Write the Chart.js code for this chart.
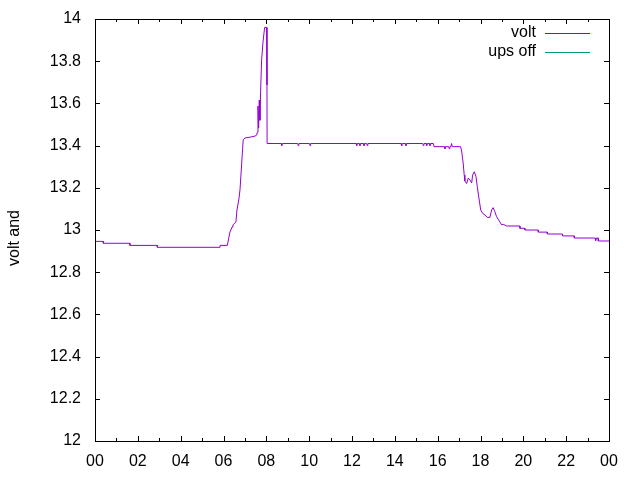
<!DOCTYPE html>
<html>
<head>
<meta charset="utf-8">
<script src="https://cdn.jsdelivr.net/npm/chart.js@4"></script>
<style>
  html, body { margin: 0; padding: 0; background: #ffffff; }
  #wrap { width: 640px; height: 480px; }
</style>
</head>
<body>
<div id="wrap"><canvas id="chart" width="640" height="480"></canvas></div>
<script>
// hours of the day (0..24) and battery volts
const voltHours = [
  0, 0.39, 0.39, 1.63, 1.63, 2.91, 2.91, 5.84, 5.84,
  6.18, 6.23, 6.30, 6.40, 6.44, 6.58, 6.63, 6.72, 6.77, 6.85, 6.89, 6.92,
  7.00, 7.24, 7.47, 7.55, 7.58, 7.61, 7.64, 7.67, 7.70, 7.73, 7.78, 7.84, 7.92,
  8.015, 8.03, 8.035,
  8.69, 8.72, 8.75, 9.46, 9.49, 9.52, 10.01, 10.04, 10.07,
  12.19, 12.22, 12.25, 12.34, 12.37, 12.40, 12.53, 12.56, 12.59, 12.68, 12.71, 12.74,
  14.29, 14.32, 14.35, 14.49, 14.52, 14.55,
  15.30, 15.33, 15.36, 15.46, 15.49, 15.52, 15.61, 15.64, 15.67,
  15.80, 15.83,
  16.31, 16.34, 16.37, 16.51, 16.54, 16.57, 16.62, 16.65, 16.68,
  17.07, 17.12, 17.19, 17.24, 17.27, 17.35, 17.43, 17.51, 17.59, 17.63, 17.71,
  17.79, 17.85, 17.94, 18.01, 18.10, 18.21, 18.31, 18.44, 18.52, 18.59, 18.67,
  18.75, 18.87, 18.99, 19.06, 19.22,
  19.84, 19.84, 20.07, 20.07, 20.70, 20.70, 21.12, 21.12, 21.83, 21.83,
  22.38, 22.38, 23.35, 23.38, 23.41, 23.50, 23.50, 24
];
const voltValues = [
  12.946, 12.946, 12.937, 12.937, 12.927, 12.927, 12.918, 12.918, 12.927,
  12.927, 12.953, 12.99, 13.014, 13.024, 13.038, 13.095, 13.147, 13.19, 13.318, 13.38, 13.427,
  13.436, 13.44, 13.445, 13.45, 13.464, 13.588, 13.483, 13.616, 13.52, 13.65, 13.806, 13.886, 13.96,
  13.96, 13.687, 13.41,
  13.41, 13.40, 13.41, 13.41, 13.40, 13.41, 13.41, 13.40, 13.41,
  13.41, 13.40, 13.41, 13.41, 13.40, 13.41, 13.41, 13.40, 13.41, 13.41, 13.40, 13.41,
  13.41, 13.40, 13.41, 13.41, 13.40, 13.41,
  13.41, 13.40, 13.41, 13.41, 13.40, 13.41, 13.41, 13.40, 13.41,
  13.41, 13.395,
  13.395, 13.385, 13.395, 13.395, 13.385, 13.395, 13.395, 13.41, 13.395,
  13.395, 13.374, 13.318, 13.26, 13.232, 13.22, 13.246, 13.237, 13.223, 13.26, 13.276,
  13.253, 13.205, 13.142, 13.095, 13.079, 13.071, 13.06, 13.06, 13.095, 13.106, 13.087,
  13.063, 13.044, 13.024, 13.027, 13.019,
  13.019, 13.008, 13.008, 13.0, 13.0, 12.99, 12.99, 12.981, 12.981, 12.972,
  12.972, 12.962, 12.962, 12.95, 12.962, 12.962, 12.948, 12.948
];
// "ups off" has no visible points in the plotted range
const upsHours = [];
const upsValues = [];

const seriesNames = ['volt', 'ups off'];
const seriesColors = ['#9400d3', '#009e73'];
const yTitle = 'volt and';

const FONT = '"Liberation Sans", Arial, sans-serif';
const FSIZE = 16;

function toPoints(xs, ys) {
  return xs.map((x, i) => ({ x: x, y: ys[i] }));
}

// gnuplot-ish frame, inward ticks, key and y label
const gnuplotLook = {
  id: 'gnuplotLook',
  afterDraw(chart) {
    const ctx = chart.ctx;
    const a = chart.chartArea;
    const xs = chart.scales.x;
    const ys = chart.scales.y;
    ctx.save();
    ctx.strokeStyle = '#000000';
    ctx.lineWidth = 1;
    ctx.beginPath();
    // y ticks on both sides
    ys.ticks.forEach(t => {
      const py = Math.round(ys.getPixelForValue(t.value)) + 0.5;
      ctx.moveTo(a.left, py); ctx.lineTo(a.left + 5, py);
      ctx.moveTo(a.right, py); ctx.lineTo(a.right - 5, py);
    });
    // x ticks: majors every 2h, minors every hour
    for (let h = 0; h <= 24; h++) {
      const px = Math.round(xs.getPixelForValue(h)) + 0.5;
      const len = h % 2 === 0 ? 5 : 3;
      ctx.moveTo(px, a.bottom); ctx.lineTo(px, a.bottom - len);
      ctx.moveTo(px, a.top); ctx.lineTo(px, a.top + len);
    }
    ctx.stroke();
    ctx.strokeRect(Math.round(a.left) + 0.5, Math.round(a.top) + 0.5,
                   Math.round(a.right - a.left), Math.round(a.bottom - a.top));

    // key
    ctx.font = FSIZE + 'px ' + FONT;
    ctx.fillStyle = '#000000';
    ctx.textAlign = 'right';
    ctx.textBaseline = 'middle';
    chart.data.datasets.forEach((ds, i) => {
      const ky = 33 + i * 19;
      ctx.fillText(ds.label, 536, ky);
      ctx.strokeStyle = ds.borderColor;
      ctx.beginPath();
      ctx.moveTo(545, ky + 0.5);
      ctx.lineTo(590, ky + 0.5);
      ctx.stroke();
    });

    // y title
    ctx.translate(15, 238);
    ctx.rotate(-Math.PI / 2);
    ctx.textAlign = 'center';
    ctx.fillText(yTitle, 0, 0);
    ctx.restore();
  }
};

new Chart(document.getElementById('chart'), {
  type: 'line',
  data: {
    datasets: [
      {
        label: seriesNames[0],
        data: toPoints(voltHours, voltValues),
        borderColor: seriesColors[0],
        borderWidth: 1,
        pointRadius: 0,
        tension: 0,
        fill: false
      },
      {
        label: seriesNames[1],
        data: toPoints(upsHours, upsValues),
        borderColor: seriesColors[1],
        borderWidth: 1,
        pointRadius: 0,
        fill: false
      }
    ]
  },
  options: {
    responsive: false,
    animation: false,
    layout: { padding: { left: 0, right: 31, top: 19, bottom: 0 } },
    plugins: {
      legend: { display: false },
      tooltip: { enabled: false }
    },
    scales: {
      x: {
        type: 'linear',
        min: 0,
        max: 24,
        grid: { display: false, drawTicks: false },
        border: { display: false },
        afterFit: s => {
          s.height = 39;
          s.paddingLeft = 0;
          s.paddingRight = 0;
        },
        ticks: {
          stepSize: 2,
          autoSkip: false,
          maxRotation: 0,
          padding: 11,
          color: '#000000',
          font: { family: FONT, size: FSIZE },
          callback: v => String(v % 24).padStart(2, '0')
        }
      },
      y: {
        min: 12,
        max: 14,
        grid: { display: false, drawTicks: false },
        border: { display: false },
        afterFit: s => {
          s.width = 95;
          s.paddingTop = 0;
          s.paddingBottom = 0;
        },
        ticks: {
          stepSize: 0.2,
          padding: 14,
          color: '#000000',
          font: { family: FONT, size: FSIZE },
          callback: v => String(Number(v.toFixed(1)))
        }
      }
    }
  },
  plugins: [gnuplotLook]
});
</script>
</body>
</html>
